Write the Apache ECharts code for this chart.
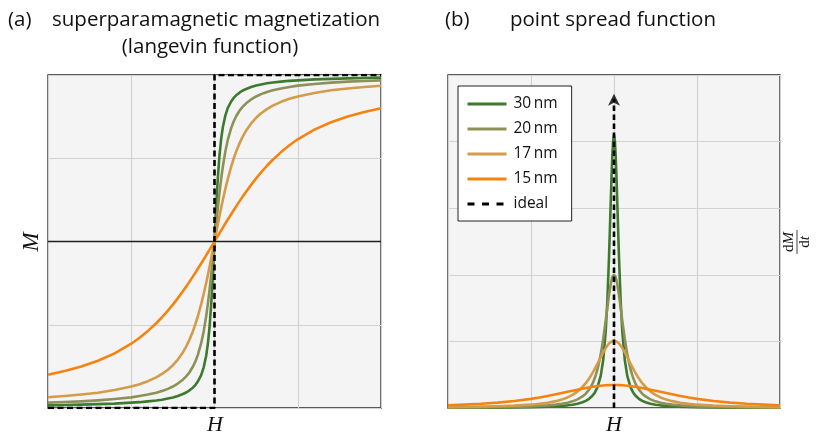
<!DOCTYPE html>
<html>
<head>
<meta charset="utf-8">
<script src="https://cdn.jsdelivr.net/npm/echarts@6/dist/echarts.min.js"></script>
<style>
  html, body { margin: 0; padding: 0; background: #ffffff; }
  #chart { width: 821px; height: 437px; }
</style>
</head>
<body>
<div id="chart"></div>
<script>
// Normalised applied field H, shared by both panels
const fieldH = [-1, -0.9, -0.8, -0.7, -0.6, -0.5, -0.45, -0.4, -0.35, -0.315, -0.28, -0.25, -0.22, -0.19, -0.17, -0.15, -0.13, -0.115, -0.1, -0.08, -0.065, -0.05, -0.04, -0.03, -0.02, -0.015, -0.01, -0.005,
  0, 0.005, 0.01, 0.015, 0.02, 0.03, 0.04, 0.05, 0.065, 0.08, 0.1, 0.115, 0.13, 0.15, 0.17, 0.19, 0.22, 0.25, 0.28, 0.315, 0.35, 0.4, 0.45, 0.5, 0.6, 0.7, 0.8, 0.9, 1];

// Particle diameters (legend order)
const sizeNames = ['30\u2009nm', '20\u2009nm', '17\u2009nm', '15\u2009nm'];
const idealName = 'ideal';

// (a) magnetisation M(H), Langevin curves
const magnet30 = [-0.984, -0.982, -0.980, -0.977, -0.974, -0.968, -0.965, -0.960, -0.955, -0.950, -0.943, -0.937, -0.928, -0.916, -0.907, -0.894, -0.878, -0.862, -0.841, -0.802, -0.756, -0.686, -0.616, -0.518, -0.381, -0.298, -0.205, -0.104,
  0, 0.104, 0.205, 0.298, 0.381, 0.518, 0.616, 0.686, 0.756, 0.802, 0.841, 0.862, 0.878, 0.894, 0.907, 0.916, 0.928, 0.937, 0.943, 0.950, 0.955, 0.960, 0.965, 0.968, 0.974, 0.977, 0.980, 0.982, 0.984];
const magnet20 = [-0.968, -0.964, -0.960, -0.954, -0.946, -0.936, -0.928, -0.919, -0.908, -0.898, -0.885, -0.871, -0.853, -0.830, -0.810, -0.785, -0.752, -0.721, -0.681, -0.611, -0.540, -0.449, -0.376, -0.293, -0.202, -0.153, -0.103, -0.052,
  0, 0.052, 0.103, 0.153, 0.202, 0.293, 0.376, 0.449, 0.540, 0.611, 0.681, 0.721, 0.752, 0.785, 0.810, 0.830, 0.853, 0.871, 0.885, 0.898, 0.908, 0.919, 0.928, 0.936, 0.946, 0.954, 0.960, 0.964, 0.968];
const magnet17 = [-0.935, -0.928, -0.919, -0.908, -0.892, -0.871, -0.857, -0.839, -0.816, -0.795, -0.770, -0.743, -0.709, -0.666, -0.631, -0.589, -0.540, -0.497, -0.449, -0.376, -0.315, -0.249, -0.202, -0.153, -0.103, -0.077, -0.052, -0.026,
  0, 0.026, 0.052, 0.077, 0.103, 0.153, 0.202, 0.249, 0.315, 0.376, 0.449, 0.497, 0.540, 0.589, 0.631, 0.666, 0.709, 0.743, 0.770, 0.795, 0.816, 0.839, 0.857, 0.871, 0.892, 0.908, 0.919, 0.928, 0.935];
const magnet15 = [-0.800, -0.778, -0.751, -0.716, -0.672, -0.614, -0.578, -0.537, -0.491, -0.455, -0.415, -0.379, -0.340, -0.299, -0.271, -0.241, -0.211, -0.188, -0.164, -0.132, -0.108, -0.083, -0.066, -0.050, -0.033, -0.025, -0.017, -0.008,
  0, 0.008, 0.017, 0.025, 0.033, 0.050, 0.066, 0.083, 0.108, 0.132, 0.164, 0.188, 0.211, 0.241, 0.271, 0.299, 0.340, 0.379, 0.415, 0.455, 0.491, 0.537, 0.578, 0.614, 0.672, 0.716, 0.751, 0.778, 0.800];

// (b) point spread function dM/dt
const psf30 = [0.003, 0.004, 0.005, 0.006, 0.009, 0.012, 0.015, 0.019, 0.025, 0.031, 0.040, 0.050, 0.064, 0.086, 0.107, 0.138, 0.183, 0.234, 0.310, 0.482, 0.720, 1.149, 1.614, 2.267, 3.066, 3.460, 3.794, 4.020,
  4.100, 4.020, 3.794, 3.460, 3.066, 2.267, 1.614, 1.149, 0.720, 0.482, 0.310, 0.234, 0.183, 0.138, 0.107, 0.086, 0.064, 0.050, 0.040, 0.031, 0.025, 0.019, 0.015, 0.012, 0.009, 0.006, 0.005, 0.004, 0.003];
const psf20 = [0.006, 0.008, 0.010, 0.013, 0.017, 0.025, 0.031, 0.039, 0.051, 0.063, 0.080, 0.100, 0.129, 0.173, 0.215, 0.275, 0.362, 0.453, 0.575, 0.805, 1.036, 1.312, 1.508, 1.696, 1.855, 1.916, 1.962, 1.990,
  2.000, 1.990, 1.962, 1.916, 1.855, 1.696, 1.508, 1.312, 1.036, 0.805, 0.575, 0.453, 0.362, 0.275, 0.215, 0.173, 0.129, 0.100, 0.080, 0.063, 0.051, 0.039, 0.031, 0.025, 0.017, 0.013, 0.010, 0.008, 0.006];
const psf17 = [0.013, 0.016, 0.020, 0.026, 0.035, 0.050, 0.062, 0.079, 0.103, 0.126, 0.159, 0.197, 0.247, 0.316, 0.373, 0.442, 0.523, 0.591, 0.662, 0.762, 0.834, 0.899, 0.937, 0.968, 0.991, 0.999, 1.005, 1.009,
  1.010, 1.009, 1.005, 0.999, 0.991, 0.968, 0.937, 0.899, 0.834, 0.762, 0.662, 0.591, 0.523, 0.442, 0.373, 0.316, 0.247, 0.197, 0.159, 0.126, 0.103, 0.079, 0.062, 0.050, 0.035, 0.026, 0.020, 0.016, 0.013];
const psf15 = [0.041, 0.051, 0.063, 0.081, 0.105, 0.137, 0.157, 0.180, 0.205, 0.224, 0.243, 0.259, 0.275, 0.291, 0.300, 0.309, 0.318, 0.323, 0.328, 0.334, 0.338, 0.341, 0.342, 0.343, 0.344, 0.345, 0.345, 0.345,
  0.345, 0.345, 0.345, 0.345, 0.344, 0.343, 0.342, 0.341, 0.338, 0.334, 0.328, 0.323, 0.318, 0.309, 0.300, 0.291, 0.275, 0.259, 0.243, 0.224, 0.205, 0.180, 0.157, 0.137, 0.105, 0.081, 0.063, 0.051, 0.041];

// Ideal (step) magnetisation and ideal (delta) point spread function
const idealStepH = [-1, 0, 0, 1];
const idealStepM = [-1, -1, 1, 1];
const idealPulseH = [0, 0];
const idealPulseV = [0, 4.64];
const idealArrowTip = [0, 4.72];

const sizeColors = ['#3e7a2e', '#8d9156', '#d39b4a', '#f5830f'];
const SANS = '"Open Sans", "Noto Sans", sans-serif';
const SERIF = '"Liberation Serif", "DejaVu Serif", serif';

const pairs = (xs, ys) => ys.map((y, i) => [xs[i], y]);

const chart = echarts.init(document.getElementById('chart'), null, { renderer: 'canvas' });

const gridBox = { show: true, backgroundColor: '#f4f4f4', borderColor: '#262626', borderWidth: 1.4, top: 75, height: 333 };
const hiddenAxisParts = {
  axisLabel: { show: false }, axisTick: { show: false }, axisLine: { show: false },
  splitLine: { show: true, lineStyle: { color: '#d2d2d2', width: 1.2 } }
};

const curveSeries = [];
const magnetSets = [magnet30, magnet20, magnet17, magnet15];
const psfSets = [psf30, psf20, psf17, psf15];
sizeNames.forEach((name, k) => {
  curveSeries.push({
    name, type: 'line', xAxisIndex: 0, yAxisIndex: 0, data: pairs(fieldH, magnetSets[k]),
    symbol: 'none', smooth: false, z: 3,
    lineStyle: { color: sizeColors[k], width: 2.6, join: 'round' }, itemStyle: { color: sizeColors[k] }
  });
});
sizeNames.forEach((name, k) => {
  curveSeries.push({
    name, type: 'line', xAxisIndex: 1, yAxisIndex: 1, data: pairs(fieldH, psfSets[k]),
    symbol: 'none', smooth: false, z: 3,
    lineStyle: { color: sizeColors[k], width: 2.6, join: 'round' }, itemStyle: { color: sizeColors[k] }
  });
});

const option = {
  animation: false,
  backgroundColor: '#ffffff',
  grid: [
    Object.assign({ left: 48, width: 333 }, gridBox),
    Object.assign({ left: 448, width: 332 }, gridBox)
  ],
  xAxis: [
    Object.assign({ type: 'value', gridIndex: 0, min: -1, max: 1, interval: 0.5 }, hiddenAxisParts),
    Object.assign({ type: 'value', gridIndex: 1, min: -1, max: 1, interval: 0.5 }, hiddenAxisParts)
  ],
  yAxis: [
    Object.assign({ type: 'value', gridIndex: 0, min: -1, max: 1, interval: 0.5 }, hiddenAxisParts),
    Object.assign({ type: 'value', gridIndex: 1, min: 0, max: 5, interval: 1 }, hiddenAxisParts)
  ],
  legend: {
    orient: 'vertical', left: 458, top: 86,
    padding: [10, 14, 9, 8],
    itemWidth: 39, itemHeight: 15, itemGap: 9,
    backgroundColor: '#ffffff', borderColor: '#222222', borderWidth: 1, borderRadius: 0,
    itemStyle: { opacity: 0, borderWidth: 0 },
    textStyle: { fontFamily: SANS, fontSize: 15.5, color: '#111111', padding: [0, 0, 0, 2] },
    data: sizeNames.map((n, k) => ({ name: n, lineStyle: { width: 3, color: sizeColors[k] } }))
      .concat([{ name: idealName, lineStyle: { width: 3, color: '#000000', type: [7, 7.5] } }]),
    selectedMode: false
  },
  series: [
    {
      // M = 0 reference line
      type: 'line', xAxisIndex: 0, yAxisIndex: 0, data: [[-1, 0], [1, 0]],
      symbol: 'none', silent: true, z: 2,
      lineStyle: { color: '#1e1e1e', width: 1.5 }
    }
  ].concat(curveSeries).concat([
    {
      name: idealName, type: 'line', xAxisIndex: 0, yAxisIndex: 0, data: pairs(idealStepH, idealStepM),
      symbol: 'none', z: 4, lineStyle: { color: '#000000', width: 2.6, type: [6, 3.5] }, itemStyle: { color: '#000000' }
    },
    {
      name: idealName, type: 'line', xAxisIndex: 1, yAxisIndex: 1, data: pairs(idealPulseH, idealPulseV),
      symbol: 'none', z: 4, lineStyle: { color: '#000000', width: 2.6, type: [5.5, 3.5] }, itemStyle: { color: '#000000' }
    },
    {
      type: 'scatter', xAxisIndex: 1, yAxisIndex: 1, data: [idealArrowTip],
      symbol: 'arrow', symbolSize: [9, 12], silent: true, z: 5,
      itemStyle: { color: '#000000' }
    }
  ]),
  graphic: [
    { type: 'text', x: 8, y: 20, style: { text: '(a)', fontFamily: SANS, fontSize: 20.5, fill: '#111', textAlign: 'left', textVerticalAlign: 'middle' } },
    { type: 'text', x: 52, y: 20, style: { text: 'superparamagnetic magnetization', fontFamily: SANS, fontSize: 20.5, fill: '#111', textAlign: 'left', textVerticalAlign: 'middle' } },
    { type: 'text', x: 210, y: 47, style: { text: '(langevin function)', fontFamily: SANS, fontSize: 20.5, fill: '#111', textAlign: 'center', textVerticalAlign: 'middle' } },
    { type: 'text', x: 445, y: 20, style: { text: '(b)', fontFamily: SANS, fontSize: 20.5, fill: '#111', textAlign: 'left', textVerticalAlign: 'middle' } },
    { type: 'text', x: 510, y: 20, style: { text: 'point spread function', fontFamily: SANS, fontSize: 20.5, fill: '#111', textAlign: 'left', textVerticalAlign: 'middle' } },
    { type: 'text', x: 215, y: 425, style: { text: 'H', fontFamily: SERIF, fontStyle: 'italic', fontSize: 22, fill: '#111', textAlign: 'center', textVerticalAlign: 'middle' } },
    { type: 'text', x: 614, y: 425, style: { text: 'H', fontFamily: SERIF, fontStyle: 'italic', fontSize: 22, fill: '#111', textAlign: 'center', textVerticalAlign: 'middle' } },
    { type: 'text', x: 32, y: 242, rotation: Math.PI / 2, style: { text: 'M', fontFamily: SERIF, fontStyle: 'italic', fontSize: 23, fill: '#111', textAlign: 'center', textVerticalAlign: 'middle' } },
    {
      type: 'group', x: 797, y: 242, rotation: Math.PI / 2,
      children: [
        { type: 'text', x: 0, y: -8, style: { text: '{u|d}{i|M}', textAlign: 'center', textVerticalAlign: 'middle', fill: '#111',
          rich: { u: { fontFamily: SERIF, fontSize: 15 }, i: { fontFamily: SERIF, fontStyle: 'italic', fontSize: 15 } } } },
        { type: 'line', shape: { x1: -12, y1: 0, x2: 12, y2: 0 }, style: { stroke: '#111', lineWidth: 0.8 } },
        { type: 'text', x: 0, y: 8.5, style: { text: '{u|d}{i|t}', textAlign: 'center', textVerticalAlign: 'middle', fill: '#111',
          rich: { u: { fontFamily: SERIF, fontSize: 15 }, i: { fontFamily: SERIF, fontStyle: 'italic', fontSize: 15 } } } }
      ]
    }
  ]
};

chart.setOption(option);
</script>
</body>
</html>
